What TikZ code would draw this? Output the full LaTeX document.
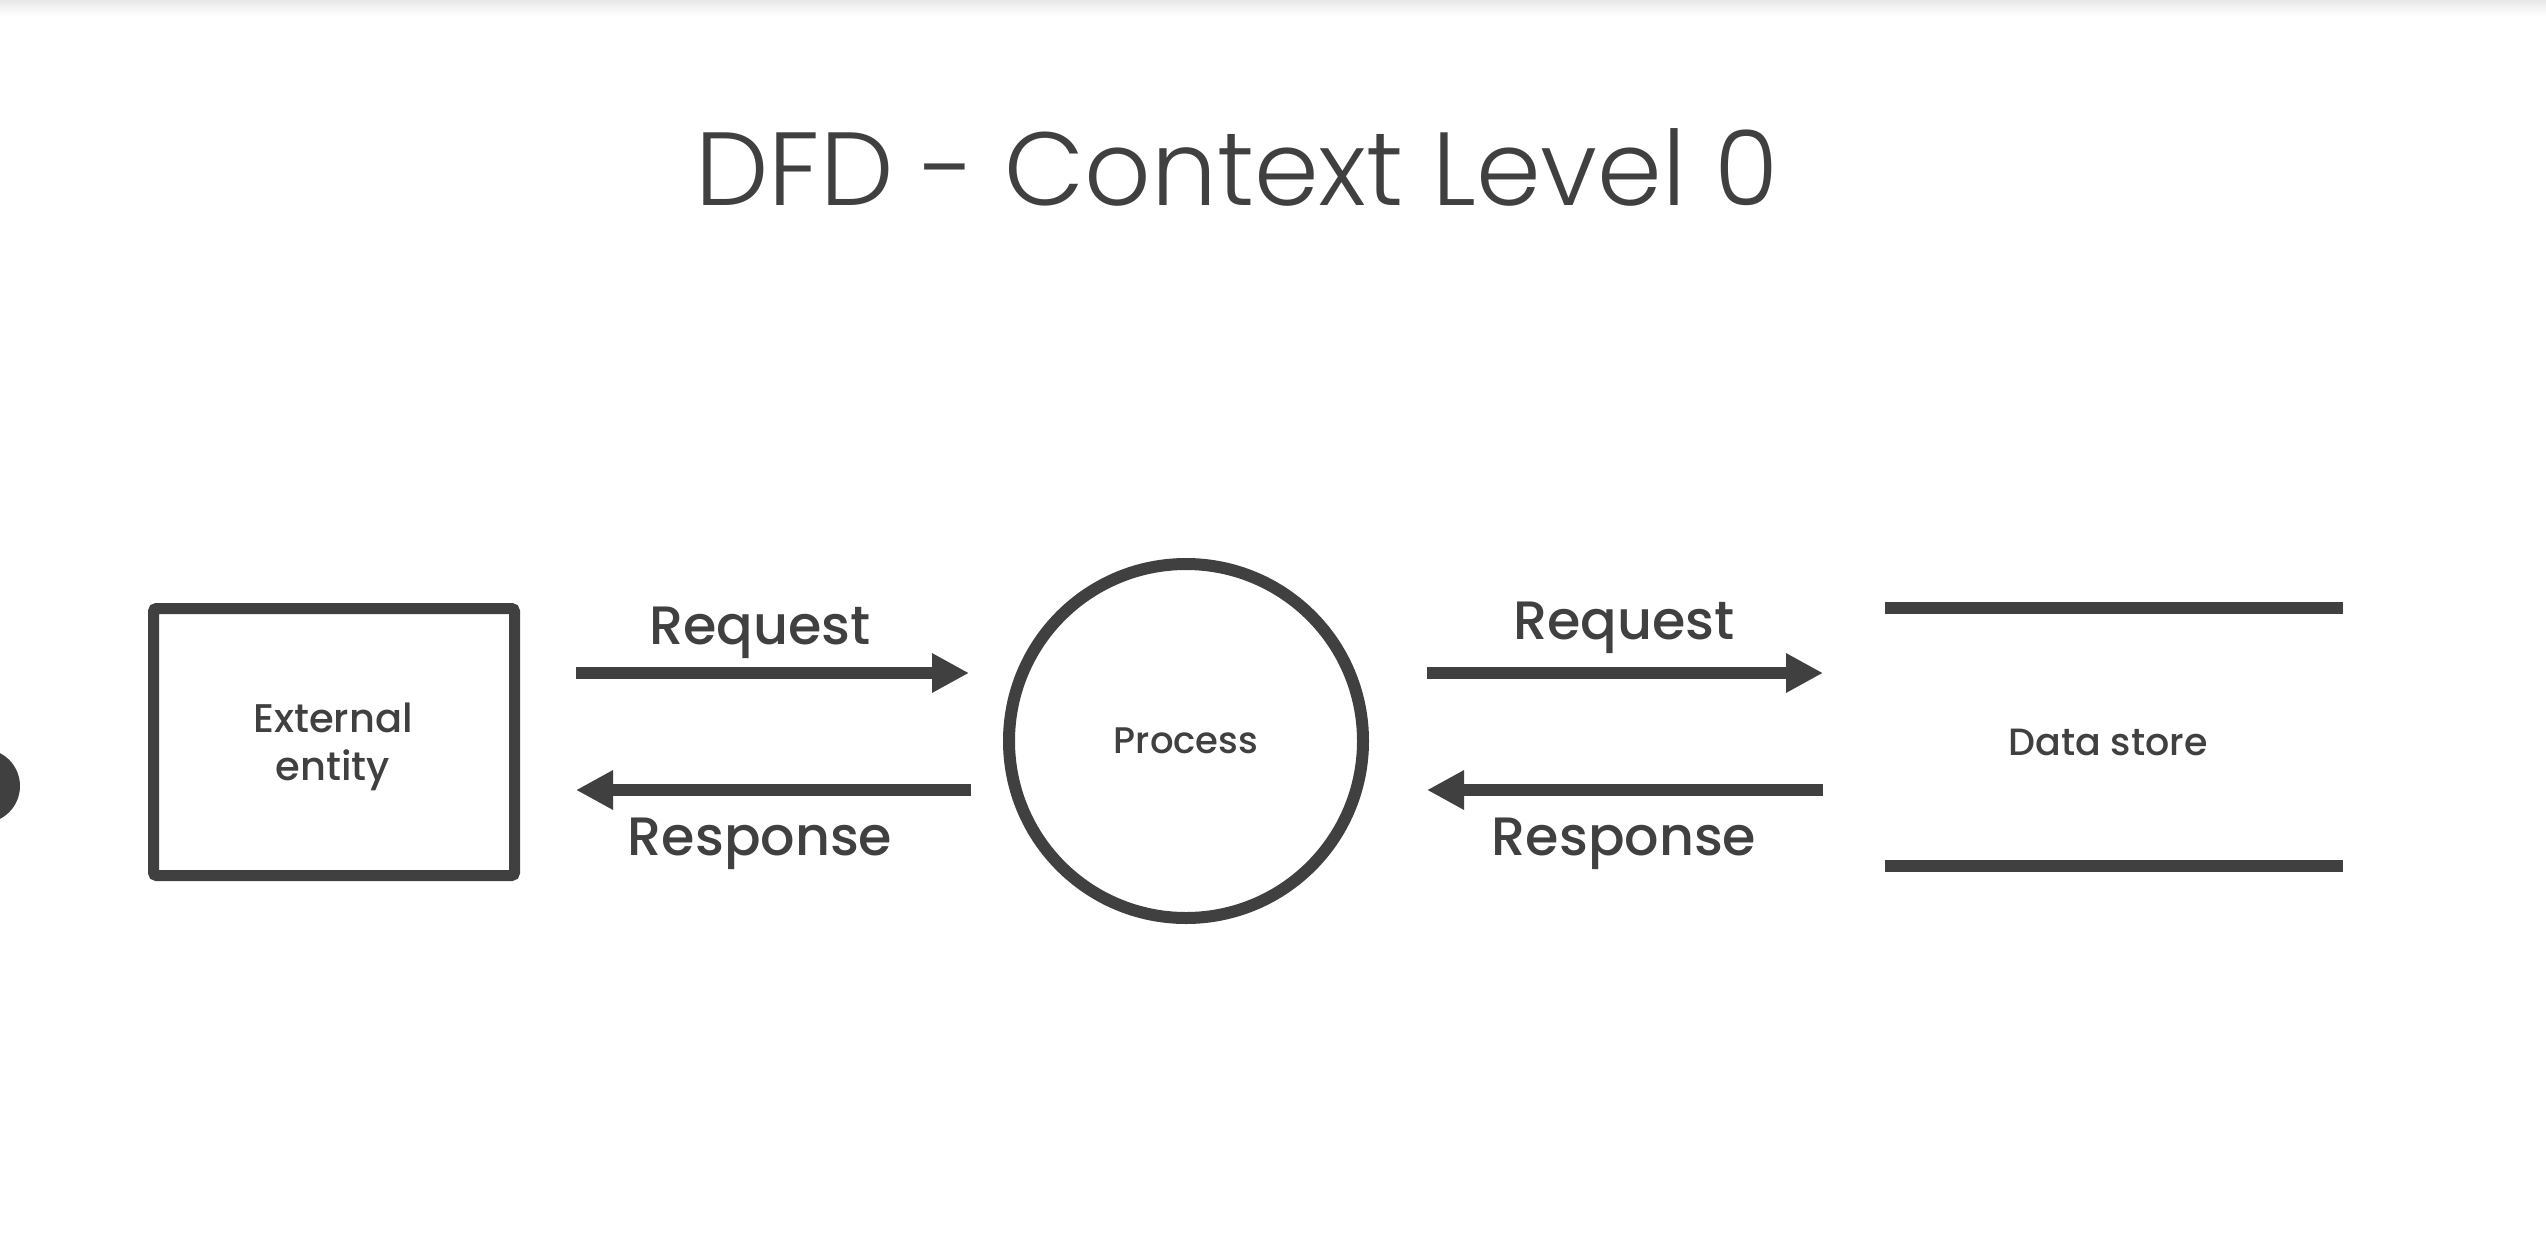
\documentclass[tikz,border=0pt]{standalone}
\usepackage{fontspec}
\setmainfont{Poppins}
\newfontfamily\titlefont{Poppins Light}
\newfontfamily\labelfont{Poppins Medium}
\usetikzlibrary{arrows.meta}
\definecolor{ink}{HTML}{404040}
\tikzset{
  shapeline/.style={draw=ink, line width=12pt},
  flow/.style={ink, line width=12pt, -{Triangle[length=37pt,width=37pt]}},
  flowlabel/.style={anchor=base, text=ink, font=\labelfont\fontsize{54}{60}\selectfont, inner sep=0pt},
  inlabel/.style={text=ink, font=\labelfont\fontsize{40}{48}\selectfont, align=center},
}
\begin{document}
\begin{tikzpicture}[x=1pt,y=-1pt]
\useasboundingbox (0,0) rectangle (2546,1253);
\fill[white] (0,0) rectangle (2546,1253);
\shade[top color=black!9, bottom color=white] (0,0) rectangle (2546,16);
\fill[ink] (-17,786) circle (37pt);
% title
\node[anchor=base, text=ink, inner sep=0pt, font=\titlefont\fontsize{104}{114}\selectfont] (title) at (1237,205) {DFD - Context Level 0};
% external entity
\node[shapeline, line width=11pt, rounded corners=3pt, minimum width=361pt, minimum height=267pt] (ext) at (334,742) {};
\node[inlabel] (extlabel) at (333,747) {External\\entity};
% process
\node[shapeline, circle, minimum size=354pt, inlabel, font=\labelfont\fontsize{37}{40}\selectfont] (proc) at (1186,741) {Process};
% data store
\node[minimum width=458pt, minimum height=257pt] (ds) at (2114,737) {};
\node[inlabel, font=\labelfont\fontsize{38}{40}\selectfont] (dslabel) at (2108,742) {Data store};
\draw[ink, line width=12pt] (ds.north west) -- (ds.north east);
\draw[ink, line width=12pt] (ds.south west) -- (ds.south east);
% flow ends
\coordinate (a1s) at (576,673); \coordinate (a1e) at (969,673);
\coordinate (a2s) at (971,790); \coordinate (a2e) at (576,790);
\coordinate (a3s) at (1427,673); \coordinate (a3e) at (1823,673);
\coordinate (a4s) at (1823,790); \coordinate (a4e) at (1427,790);
\draw[flow] (a1s) -- (a1e);
\draw[flow] (a2s) -- (a2e);
\draw[flow] (a3s) -- (a3e);
\draw[flow] (a4s) -- (a4e);
\node[flowlabel] (l1) at (760,644) {Request};
\node[flowlabel] (l2) at (760,855) {Response};
\node[flowlabel] (l3) at (1624,639) {Request};
\node[flowlabel] (l4) at (1624,855) {Response};
\end{tikzpicture}
\end{document}
